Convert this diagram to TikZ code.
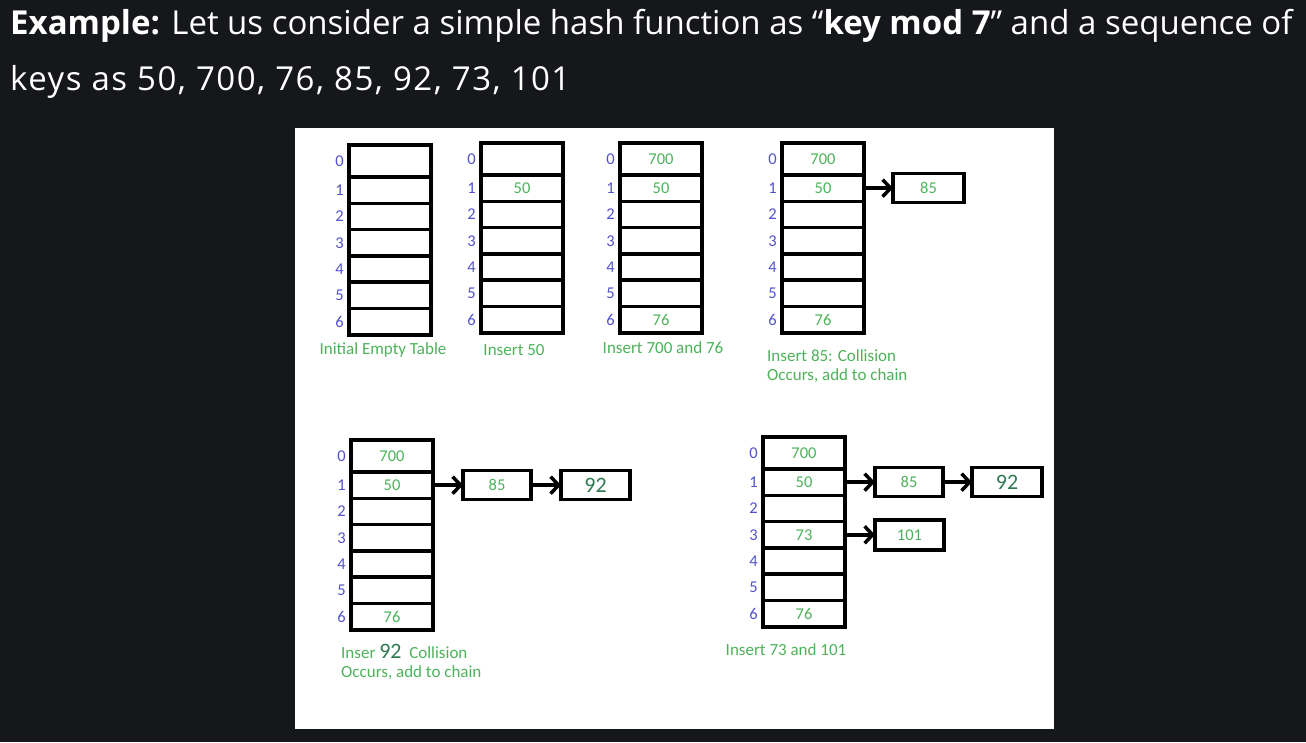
\documentclass[tikz,border=0pt]{standalone}
\usepackage{fontspec}
\setmainfont{Open Sans}
\newfontfamily\calibri{Carlito}
\usetikzlibrary{positioning, arrows.meta}
\definecolor{pagebg}{HTML}{16171B}
\definecolor{keygreen}{HTML}{4DB35A}
\definecolor{idxblue}{HTML}{5353CC}
\definecolor{bigkey}{HTML}{2F7A52}

\begin{document}
\begin{tikzpicture}[
    x=1pt, y=-1pt,
    slot/.style={draw, line width=3.5pt, minimum width=82pt, minimum height=26.3pt,
                 inner sep=0pt, outer sep=0pt, text=keygreen,
                 font=\calibri\fontsize{16.5}{18}\selectfont},
    chainbox/.style={slot, minimum width=69pt, minimum height=29pt},
    idx/.style={inner sep=0pt, text=idxblue, font=\calibri\fontsize{16.5}{18}\selectfont},
    caption/.style={inner sep=0pt, text=keygreen, align=left,
                    font=\calibri\fontsize{17}{19.5}\selectfont},
    heading/.style={inner sep=0pt, text=white, anchor=base west, font=\fontsize{33}{33}\selectfont},
    chain/.style={-{Straight Barb[length=8pt, width=17pt]}, line width=3.5pt},
]

% ============================================================
% page and panel
% ============================================================
\useasboundingbox (0,0) rectangle (1306,742);
\fill[pagebg] (0,0) rectangle (1306,742);
\fill[white] (295,128) rectangle (1054,729);

\node[heading] (head1) at (10,34) {\textbf{Example:} Let us consider a simple hash function as “\textbf{key mod 7}” and a sequence of};
\node[heading] (head2) at (10,90) {\addfontfeature{LetterSpace=4.5}keys as 50, 700, 76, 85, 92, 73, 101};

% ============================================================
% the six tables: name / left / top / slot 0 / slots 1..6
% ============================================================
\foreach \tb/\px/\py/\first/\rest in {
    A/349/145/{}/{{},{},{},{},{},{}},
    B/481/143/{}/{50,{},{},{},{},{}},
    C/620/143/700/{50,{},{},{},{},76},
    D/782/143/700/{50,{},{},{},{},76},
    E/351/440/700/{50,{},{},{},{},76},
    F/763/437/700/{50,{},73,{},{},76}}{
  \node[slot, minimum height=32pt, anchor=north west] (\tb-0) at (\px,\py) {\first};
  \foreach \v [count=\i, remember=\i as \p (initially 0)] in \rest
    \node[slot, below=0pt of \tb-\p] (\tb-\i) {\v};
  \foreach \i in {0,...,6}
    \node[idx, left=5pt of \tb-\i] {\i};
}

% ============================================================
% chains
% ============================================================
\node[chainbox, minimum width=71pt, right=29pt of D-1] (d85) {85};
\draw[chain] (D-1.east) -- (d85.west);

\node[chainbox, minimum width=68pt, right=30pt of E-1] (e85) {85};
\node[chainbox, right=30pt of e85, font=\calibri\fontsize{22}{22}\selectfont, text=bigkey] (e92) {92};
\draw[chain] (E-1.east) -- (e85.west);
\draw[chain] (e85) -- (e92);

\node[chainbox, minimum width=68pt, right=30pt of F-1] (f85) {85};
\node[chainbox, minimum width=70pt, right=29pt of f85, font=\calibri\fontsize{22}{22}\selectfont, text=bigkey] (f92) {92};
\node[chainbox, minimum height=30pt, right=30pt of F-3] (f101) {101};
\draw[chain] (F-1.east) -- (f85.west);
\draw[chain] (f85) -- (f92);
\draw[chain] (F-3.east) -- (f101.west);

% ============================================================
% captions
% ============================================================
\node[caption] (capA) at (383,350) {Initial Empty Table};
\node[caption] (capB) at (514,350) {Insert 50};
\node[caption] (capC) at (663,348) {Insert 700 and 76};
\node[caption, anchor=north west] (capD) at (767,349) {Insert 85: Collision\\Occurs, add to chain};
\node[caption, anchor=north west] (capE) at (341,644)
    {Inser {\color{bigkey}\fontsize{22}{22}\selectfont 92}\ \ Collision\\Occurs, add to chain};
\node[caption] (capF) at (786,650) {Insert 73 and 101};

\end{tikzpicture}
\end{document}
